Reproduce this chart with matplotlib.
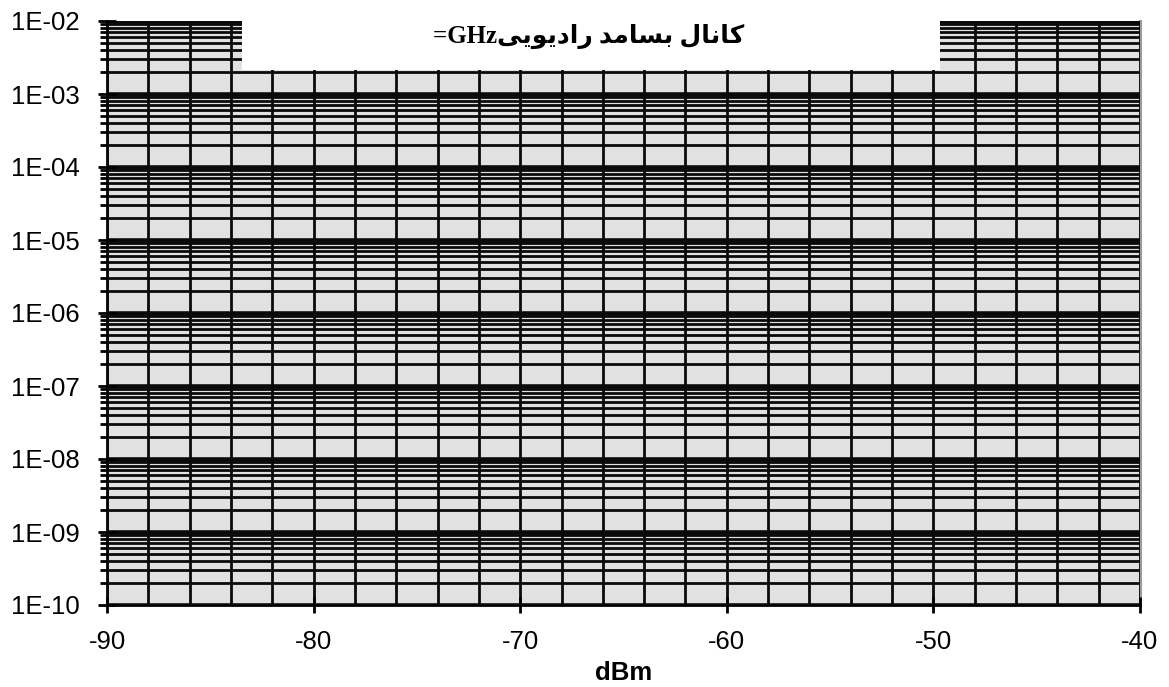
import numpy as np
import matplotlib
matplotlib.use("Agg")
import matplotlib.pyplot as plt
from matplotlib.ticker import FixedLocator, FuncFormatter, LogLocator, NullFormatter
from matplotlib.patches import Rectangle

# axis ranges / ticks
x_range = [-90, -40]
x_major = [-90, -80, -70, -60, -50, -40]
x_minor = list(range(-90, -39, 2))          # vertical grid every 2 dBm
y_range = [1e-10, 1e-2]
y_decades = [1e-10, 1e-9, 1e-8, 1e-7, 1e-6, 1e-5, 1e-4, 1e-3, 1e-2]
x_label = "dBm"

# title box: Persian text in visual (left-to-right) order, pre-shaped glyphs
persian_logical = "کانال بسامد رادیویی"
persian_visual = ("\uFBFD\uFBFE\uFEEE\uFBFE\uFEA9\uFE8D\uFEAD "
                  "\uFEAA\uFEE3\uFE8E\uFEB4\uFE91 "
                  "\uFEDD\uFE8E\uFEE7\uFE8E\uFB90")
title_text = "=GHz" + persian_visual

plt.rcParams["font.family"] = ["Liberation Sans", "DejaVu Sans"]

W, H = 1169, 687
fig = plt.figure(figsize=(W / 100, H / 100), dpi=100)
ax = fig.add_axes([107 / W, 1 - 605 / H, (1140 - 107) / W, (605 - 21) / H])
ax.set_facecolor("#e1e1e1")

ax.set_yscale("log")
ax.set_xlim(*x_range)
ax.set_ylim(*y_range)

ax.xaxis.set_major_locator(FixedLocator(x_major))
ax.xaxis.set_minor_locator(FixedLocator(x_minor))
ax.yaxis.set_major_locator(FixedLocator(y_decades))
ax.yaxis.set_minor_locator(LogLocator(base=10, subs=np.arange(2, 10), numticks=20))
ax.yaxis.set_minor_formatter(NullFormatter())
ax.yaxis.set_major_formatter(FuncFormatter(
    lambda v, p: "1E-%02d" % int(round(-np.log10(v)))))
ax.xaxis.set_major_formatter(FuncFormatter(lambda v, p: "%d" % v))

ax.grid(which="major", axis="y", color="#0a0a0a", lw=3.3)
ax.grid(which="minor", axis="y", color="#0a0a0a", lw=2.0)
ax.grid(which="both", axis="x", color="#0a0a0a", lw=2.0)
ax.set_axisbelow(False)

ax.tick_params(axis="y", which="major", direction="inout", length=13, width=2,
               pad=13, labelsize=18.5)
ax.tick_params(axis="y", which="minor", direction="out", length=5, width=2)
ax.tick_params(axis="x", which="major", direction="inout", length=12, width=2,
               pad=12, labelsize=18.5)
ax.tick_params(axis="x", which="minor", length=0)

for s in ["left", "bottom"]:
    ax.spines[s].set_color("black")
    ax.spines[s].set_linewidth(2)
ax.spines["right"].set_color("#9a9a9a")
ax.spines["right"].set_linewidth(2.2)
ax.spines["top"].set_visible(False)

ax.set_xlabel(x_label, fontsize=18.5, fontweight="bold", labelpad=5)

# white title box over the top of the grid
fig.patches.append(Rectangle((242 / W, 1 - 70 / H), (940 - 242) / W, 60 / H,
                             transform=fig.transFigure, facecolor="white",
                             edgecolor="none", zorder=5))
fig.text(589 / W, 1 - 36 / H, title_text, ha="center", va="center",
         fontsize=18, fontweight="bold", zorder=6,
         family=["Liberation Serif", "DejaVu Sans"])

fig.savefig("out.png", dpi=100)
